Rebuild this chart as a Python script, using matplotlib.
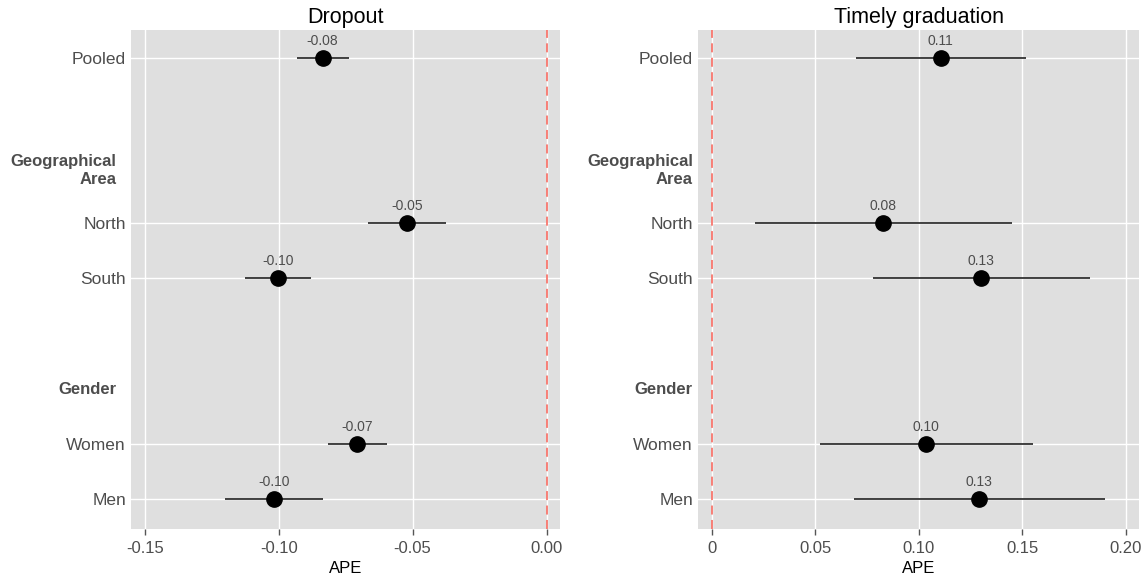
import numpy as np
import matplotlib
matplotlib.use("Agg")
import matplotlib.pyplot as plt

plt.rcParams['font.family'] = ['Liberation Sans', 'DejaVu Sans']

# rows (bottom to top): Men, Women, [Gender], -, South, North, [Geographical Area], -, Pooled
categories = ["Pooled", "North", "South", "Women", "Men"]
cat_pos = [9, 6, 5, 2, 1]
headers = ["Geographical\nArea", "Gender"]
header_pos = [7, 3]

# Dropout: estimate, lower, upper
drop_est = [-0.0836, -0.0522, -0.1003, -0.0707, -0.1019]
drop_lo = [-0.0931, -0.0667, -0.1126, -0.0817, -0.1202]
drop_hi = [-0.0739, -0.0376, -0.0879, -0.0596, -0.0835]
drop_ticks = [-0.15, -0.10, -0.05, 0.00]
drop_ticklabels = ["-0.15", "-0.10", "-0.05", "0.00"]

# Timely graduation
grad_est = [0.1106, 0.0829, 0.1301, 0.1037, 0.1291]
grad_lo = [0.0698, 0.0206, 0.0779, 0.0523, 0.0686]
grad_hi = [0.1516, 0.1450, 0.1826, 0.1554, 0.1898]
grad_ticks = [0, 0.05, 0.10, 0.15, 0.20]
grad_ticklabels = ["0", "0.05", "0.10", "0.15", "0.20"]

GREY_TXT = '#4D4D4D'
PANEL_BG = '#DFDFDF'


def draw_panel(ax, title, est, lo, hi, ticks, ticklabels, xlim, header_pad):
    ax.set_facecolor(PANEL_BG)
    for s in ax.spines.values():
        s.set_visible(False)

    # gridlines
    for t in ticks:
        ax.axvline(t, color='white', linewidth=1.0, zorder=0)
    for p in cat_pos:
        ax.axhline(p, color='white', linewidth=1.0, zorder=0)

    ax.axvline(0, color='#F8766D', linewidth=1.3, dashes=(5, 3), zorder=1)

    ax.hlines(cat_pos, lo, hi, color='#222222', linewidth=1.2, zorder=2)
    ax.plot(est, cat_pos, 'o', color='black', markersize=11, zorder=3)
    for x, y in zip(est, cat_pos):
        ax.annotate("%.2f" % x, (x, y), xytext=(0, 7), textcoords='offset points',
                    ha='center', va='bottom', fontsize=10, color=GREY_TXT)

    ax.set_xlim(*xlim)
    ax.set_ylim(0.45, 9.5)
    ax.set_xticks(ticks)
    ax.set_xticklabels(ticklabels)
    ax.tick_params(axis='x', length=4.5, width=1, color='#555555', labelsize=12,
                   labelcolor=GREY_TXT, pad=4)

    ax.set_yticks(cat_pos)
    ax.set_yticklabels(categories)
    ax.tick_params(axis='y', which='major', length=0, labelsize=12.5, labelcolor=GREY_TXT, pad=4)
    ax.set_yticks(header_pos, minor=True)
    ax.set_yticklabels(headers, minor=True, fontweight='bold')
    ax.tick_params(axis='y', which='minor', length=0, labelsize=12, labelcolor=GREY_TXT,
                   pad=header_pad)

    ax.set_title(title, fontsize=15.5, pad=5)
    ax.set_xlabel("APE", fontsize=12, labelpad=4)


fig = plt.figure(figsize=(11.45, 5.88), dpi=100)
ax1 = fig.add_axes([0.1148, 0.1003, 0.3742, 0.8486])
ax2 = fig.add_axes([0.6100, 0.1003, 0.3850, 0.8486])

draw_panel(ax1, "Dropout", drop_est, drop_lo, drop_hi, drop_ticks, drop_ticklabels,
           (-0.155, 0.005), 11)
draw_panel(ax2, "Timely graduation", grad_est, grad_lo, grad_hi, grad_ticks, grad_ticklabels,
           (-0.0065, 0.2066), 4)

fig.savefig("out.png", dpi=100)
